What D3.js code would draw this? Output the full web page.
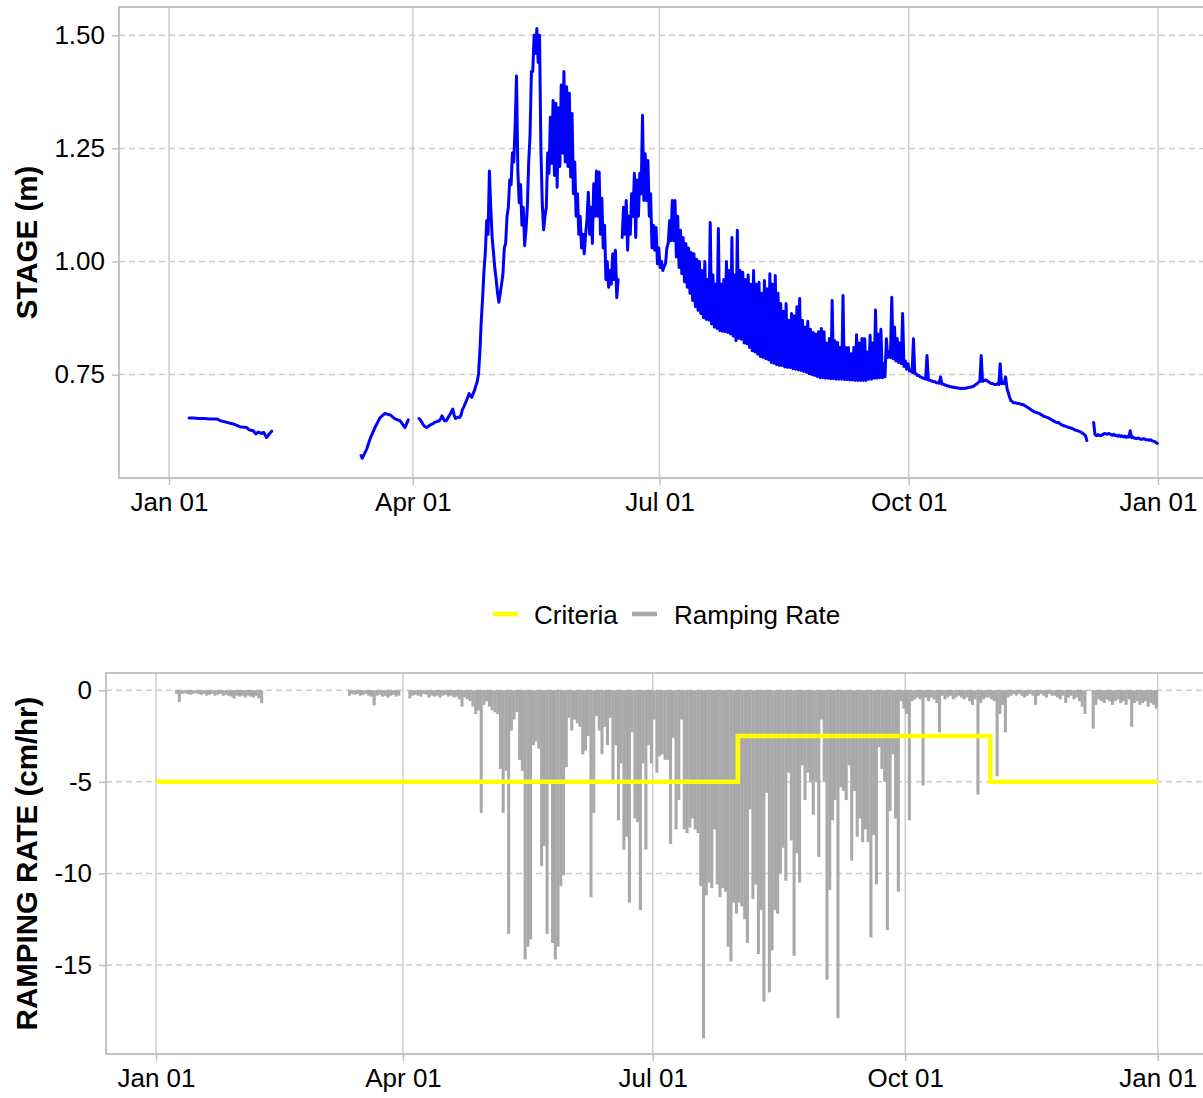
<!DOCTYPE html>
<html><head><meta charset="utf-8">
<script src="https://cdn.jsdelivr.net/npm/d3@7"></script>
<style>body{margin:0;background:#fff}svg{display:block}text{font-family:"Liberation Sans",Arial,sans-serif}</style>
</head><body><svg id="c" width="1203" height="1098"></svg>
<script>
// ---------------- DATA ----------------
const xTickDates  = ["2021-01-01","2021-04-01","2021-07-01","2021-10-01","2022-01-01"];
const xTickLabels = ["Jan 01","Apr 01","Jul 01","Oct 01","Jan 01"];
const stageTicks  = [0.75, 1.00, 1.25, 1.50];
const stageTickLabels = ["0.75","1.00","1.25","1.50"];
const rampTicks   = [0, -5, -10, -15];
const rampTickLabels = ["0","-5","-10","-15"];

// Stage (m): January segment, [day of year, value]
const stageJanDay = [7.4,9,11,13,15,17.6,19,21,23.7,25,26,27,28.7,29.5,31.1,32,33,34,35,36,37,37.9];
const stageJanVal = [0.654,0.654,0.653,0.653,0.652,0.652,0.648,0.645,0.641,0.638,0.635,0.634,0.633,0.628,0.626,0.619,0.623,0.62,0.622,0.611,0.619,0.625];
// Stage (m): March segment
const stageMarDay = [70.9,71.3,73,74.2,76,77.9,79.7,81.6,83.4,85.3,87.1,88.3];
const stageMarVal = [0.571,0.565,0.586,0.608,0.633,0.655,0.664,0.661,0.652,0.648,0.633,0.65];
// Stage (m): Apr 2 (day 92) .. Dec 31, two readings per day
const stageStartDay = 92;
const stageAprDec = [
[.653,.650],[.645,.640],[.636,.634],[.633,.636],[.638,.640],[.641,.643],[.645,.646],[.647,.648],[.652,.659],[.652,.648],
[.648,.652],[.658,.662],[.668,.674],[.660,.653],[.655,.656],[.655,.660],[.672,.678],[.685,.692],[.700,.708],[.703,.700],
[.708,.715],[.725,.735],[.752,.803],[.870,.920],[.980,1.02],[1.09,1.06],[1.20,1.12],[1.054,1.02],[.985,.960],[.930,.910],
[.930,.950],[.973,1.03],[1.04,1.10],[1.12,1.18],[1.17,1.24],[1.22,1.30],[1.41,1.20],[1.13,1.17],[1.08,1.12],[1.035,1.07],
[1.12,1.22],[1.28,1.42],[1.42,1.50],[1.46,1.515],[1.44,1.50],[1.25,1.13],[1.07,1.10],[1.12,1.24],[1.195,1.319],[1.217,1.356],
[1.19,1.35],[1.164,1.34],[1.21,1.39],[1.24,1.42],[1.22,1.386],[1.21,1.372],[1.187,1.327],[1.15,1.22],[1.10,1.15],[1.06,1.10],
[1.03,1.06],[1.017,1.06],[1.09,1.153],[1.06,1.12],[1.04,1.172],[1.10,1.20],[1.10,1.198],[1.06,1.14],[1.03,1.08],[.960,1.00],
[.943,.980],[.950,1.017],[.960,1.025],[.920,.960],[null,null],[1.053,1.12],[1.06,1.135],[1.025,1.10],[1.06,1.15],[1.10,1.195],
[1.053,1.18],[1.10,1.195],[1.15,1.323],[1.135,1.238],[1.135,1.223],[1.10,1.15],[1.03,1.08],[1.025,1.075],[.995,1.03],[.987,1.0],
[.980,.990],[.995,1.03],[1.04,1.09],[1.046,1.135],[1.046,1.135],[1.01,1.10],[.987,1.069],[.973,1.053],[.955,1.04],[.943,1.03],
[.930,1.02],[.914,1.017],[.900,1.005],[.892,1.0],[.885,.980],[.876,1.0],[.872,.960],[.870,1.086],[.862,.970],[.855,.950],
[.852,1.073],[.847,.950],[.846,.960],[.845,1.0],[.843,.980],[.840,1.053],[.835,.970],[.825,1.069],[.830,.980],[.828,.976],
[.820,.960],[.818,.970],[.810,.950],[.803,.980],[.800,.950],[.795,.954],[.790,.930],[.788,.958],[.785,.940],[.783,.973],
[.777,.950],[.775,.969],[.772,.930],[.770,.907],[.770,.890],[.767,.907],[.766,.870],[.766,.885],[.763,.880],[.762,.900],
[.760,.918],[.759,.870],[.757,.855],[.755,.868],[.752,.850],[.750,.843],[.748,.840],[.746,.845],[.743,.852],[.743,.845],
[.742,.820],[.742,.830],[.741,.914],[.741,.825],[.740,.821],[.740,.810],[.740,.925],[.739,.810],[.739,.810],[.738,.796],
[.738,.810],[.737,.838],[.737,.820],[.737,.830],[.737,.829],[.737,.800],[.740,.837],[.740,.820],[.742,.893],[.742,.840],
[.743,.850],[.743,.774],[.745,.829],[.788,.800],[.788,.921],[.785,.855],[.780,.830],[.777,.820],[.774,.885],[.768,.780],
[.762,.774],[.758,.760],[.755,.829],[.752,.752],[.748,.748],[.745,.744],[.742,.742],[.740,.792],[.738,.738],[.736,.736],
[.734,.734],[.732,.732],[.731,.745],[.729,.729],[.727,.727],[.725,.725],[.723,.723],[.722,.722],[.721,.721],[.720,.720],
[.719,.720],[.719,.720],[.720,.721],[.722,.722],[.723,.724],[.726,.728],[.730,.733],[.735,.792],[.735,.736],[.738,.737],
[.735,.733],[.731,.730],[.730,.728],[.728,.730],[.728,.774],[.730,.732],[.730,.745],[.720,.710],[.700,.692],[.690,.688],
[.688,.687],[.686,.686],[.685,.684],[.684,.682],[.680,.678],[.676,.674],[.672,.670],[.668,.667],[.666,.665],[.664,.662],
[.660,.658],[.657,.656],[.655,.654],[.652,.650],[.648,.647],[.645,.644],[.644,.642],[.640,.638],[.637,.636],[.635,.634],
[.633,.632],[.631,.630],[.628,.627],[.626,.625],[.624,.622],[.620,.618],[.615,.604],[null,null],[null,null],[.644,.618],
[.615,.617],[.616,.615],[.616,.618],[.620,.619],[.618,.620],[.619,.617],[.616,.618],[.615,.616],[.614,.616],[.613,.615],
[.612,.614],[.611,.613],[.612,.626],[.611,.612],[.610,.609],[.609,.610],[.608,.607],[.607,.609],[.607,.606],[.606,.605],
[.606,.604],[.603,.602],[.600,.598]
];

// Ramping rate (cm/hr): daily values
const rampJanStart = 7;
const rampJan = [-0.2,-0.64,-0.2,-0.15,-0.2,-0.25,-0.2,-0.15,-0.2,-0.25,-0.2,-0.3,-0.25,-0.2,-0.3,-0.25,-0.2,-0.3,-0.25,-0.3,-0.35,-0.45,-0.3,-0.35,-0.3,-0.4,-0.3,-0.35,-0.4,-0.3,-0.45,-0.71];
const rampMarStart = 70;
const rampMar = [-0.3,-0.2,-0.25,-0.2,-0.3,-0.25,-0.2,-0.3,-0.35,-0.82,-0.3,-0.25,-0.35,-0.3,-0.4,-0.3,-0.25,-0.35,-0.3];
const rampAprStart = 92;
const rampAprDec = [
-0.45,-0.3,-0.25,-0.3,-0.35,-0.2,-0.25,-0.4,-0.3,-0.35,
-0.3,-0.4,-0.3,-0.25,-0.35,-0.3,-0.4,-0.35,-0.5,-0.9,
-0.4,-0.5,-0.6,-0.9,-1.3,-1.1,-6.7,-0.8,-0.6,-0.9,
-1.1,-1.2,-1.3,-4.3,-6.7,-4.4,-13.3,-2.2,-1.6,-1.2,
-3.8,-4.4,-14.7,-14.0,-13.6,-3.0,-2.8,-3.2,-9.6,-8.5,
-13.3,-5.1,-13.8,-14.7,-14.0,-10.7,-10.1,-4.2,-1.5,-2.2,
-1.6,-1.8,-2.0,-3.5,-3.3,-2.5,-11.3,-6.7,-1.4,-2.2,
-3.5,-2.0,-3.0,-1.5,-4.9,-3.0,-7.1,-4.0,-8.7,-8.0,
-11.6,-2.3,-7.0,-7.2,-12.0,-4.0,-8.7,-3.0,-4.0,-1.6,
-4.5,-3.6,-3.5,-3.8,-3.8,-8.4,-2.6,-7.6,-6.0,-1.6,
-7.6,-7.8,-7.5,-7.0,-7.6,-7.8,-10.7,-19.0,-11.2,-10.5,
-10.8,-7.6,-10.6,-11.3,-10.8,-11.0,-14.0,-14.8,-11.6,-12.2,
-11.6,-11.8,-12.5,-13.8,-6.5,-11.4,-10.6,-14.4,-12.0,-17.0,
-5.6,-16.5,-14.2,-12.0,-12.2,-10.0,-8.6,-10.4,-4.5,-8.2,
-14.5,-8.9,-10.5,-4.1,-6.0,-4.5,-5.0,-6.8,-5.0,-9.1,
-1.6,-5.0,-15.8,-10.9,-7.1,-6.0,-17.9,-5.3,-5.5,-6.0,
-4.1,-9.3,-5.5,-8.0,-7.0,-8.3,-7.6,-8.3,-13.5,-7.9,
-10.6,-3.1,-4.3,-5.0,-13.1,-6.6,-3.5,-7.0,-11.0,-0.6,
-1.0,-1.3,-7.1,-0.6,-0.5,-0.4,-0.5,-5.2,-0.4,-0.6,
-0.4,-0.5,-0.7,-2.3,-0.3,-0.5,-0.4,-0.3,-0.5,-0.4,
-0.3,-0.4,-0.5,-0.4,-0.6,-0.8,-0.5,-5.7,-0.7,-0.5,
-0.4,-0.4,-0.5,-0.6,-4.7,-1.3,-0.8,-2.3,-0.4,-0.3,
-0.2,-0.3,-0.2,-0.3,-0.4,-0.3,-0.2,-0.3,-0.8,-0.3,
-0.2,-0.3,-0.4,-0.2,-0.3,-0.3,-0.4,-0.5,-0.3,-0.7,
-0.4,-0.3,-0.5,-0.4,-0.6,-0.9,-1.3,null,null,-2.1,
-0.8,-0.5,-0.6,-0.7,-0.5,-0.6,-0.8,-0.6,-0.5,-0.7,
-0.6,-0.8,-0.5,-2.0,-0.7,-0.6,-0.8,-0.7,-0.6,-0.9,
-0.7,-0.8,-1.0
];

// Ramping criteria (cm/hr), step after each date
const criteriaDates = ["2021-01-01","2021-08-01","2021-11-01","2022-01-01"];
const criteriaVals  = [-5, -2.5, -5, -5];

const legendLabels = ["Criteria","Ramping Rate"];
const legendColors = ["#FFFF00","#A9A9A9"];

// ---------------- DRAW ----------------
const svg = d3.select("#c");
const parse = s => new Date(s + "T00:00:00Z");
const day0 = Date.UTC(2021,0,1);
const dayToDate = d => new Date(day0 + d*864e5);
const domainX = [parse("2021-01-01"), parse("2022-01-01")];

const GRID = "#cccccc", BORDER = "#bdbdbd", FONT = 26;

function panel(o){
  const g = svg.append("g");
  const id = "clip" + o.name;
  svg.append("clipPath").attr("id", id).append("rect")
     .attr("x", o.left).attr("y", o.top).attr("width", o.right - o.left).attr("height", o.bottom - o.top);
  g.selectAll(".vg").data(xTickDates).join("line")
    .attr("x1", d => o.x(parse(d))).attr("x2", d => o.x(parse(d)))
    .attr("y1", o.top).attr("y2", o.bottom)
    .attr("stroke", GRID).attr("stroke-width", 1.5);
  g.selectAll(".hg").data(o.yTicks).join("line")
    .attr("x1", o.left).attr("x2", o.right)
    .attr("y1", d => o.y(d)).attr("y2", d => o.y(d))
    .attr("stroke", GRID).attr("stroke-width", 1.5).attr("stroke-dasharray", "6,4");
  const data = svg.append("g").attr("clip-path", `url(#${id})`);
  svg.append("rect").attr("x", o.left).attr("y", o.top)
    .attr("width", o.right - o.left).attr("height", o.bottom - o.top)
    .attr("fill", "none").attr("stroke", BORDER).attr("stroke-width", 1.8);
  const ax = svg.append("g").attr("transform", `translate(0,${o.bottom})`)
    .call(d3.axisBottom(o.x).tickValues(xTickDates.map(parse)).tickFormat((d,i) => xTickLabels[i]).tickSize(7).tickPadding(8));
  ax.select(".domain").remove();
  ax.selectAll("line").attr("stroke", BORDER).attr("stroke-width", 1.5);
  ax.selectAll("text").attr("font-size", FONT).attr("fill", "#000").attr("font-family", "Liberation Sans, Arial, sans-serif");
  const ay = svg.append("g").attr("transform", `translate(${o.left},0)`)
    .call(d3.axisLeft(o.y).tickValues(o.yTicks).tickFormat((d,i) => o.yLabels[i]).tickSize(7).tickPadding(7));
  ay.select(".domain").remove();
  ay.selectAll("line").attr("stroke", BORDER).attr("stroke-width", 1.5);
  ay.selectAll("text").attr("font-size", FONT).attr("fill", "#000").attr("font-family", "Liberation Sans, Arial, sans-serif");
  svg.append("text").attr("transform", `translate(37,${(o.top + o.bottom)/2}) rotate(-90)`)
    .attr("text-anchor", "middle").attr("font-weight", "bold").attr("font-size", 29.5).attr("fill", "#000")
    .text(o.title);
  return data;
}

// ---- top panel ----
const xTop = d3.scaleUtc().domain(domainX).range([169, 1158]);
const yTop = d3.scaleLinear().domain([0.5215, 1.5625]).range([478, 7]);
const topData = panel({name:"top", left:119, right:1212, top:7, bottom:478, x:xTop, y:yTop,
  yTicks:stageTicks, yLabels:stageTickLabels, title:"STAGE (m)"});

const stagePts = [];
stageJanDay.forEach((d,i) => stagePts.push({t:dayToDate(d), v:stageJanVal[i]}));
stagePts.push({t:dayToDate(50), v:null});
stageMarDay.forEach((d,i) => stagePts.push({t:dayToDate(d), v:stageMarVal[i]}));
stagePts.push({t:dayToDate(90), v:null});
stageAprDec.forEach((p,i) => {
  stagePts.push({t:dayToDate(stageStartDay + i + 0.25), v:p[0]});
  stagePts.push({t:dayToDate(stageStartDay + i + 0.75), v:p[1]});
});
const stageLine = d3.line().defined(d => d.v != null).x(d => xTop(d.t)).y(d => yTop(d.v));
topData.append("path").datum(stagePts).attr("d", stageLine)
  .attr("fill", "none").attr("stroke", "#0000FF").attr("stroke-width", 3)
  .attr("stroke-linejoin", "round").attr("stroke-linecap", "round");

// ---- bottom panel ----
const xBot = d3.scaleUtc().domain(domainX).range([156, 1157.7]);
const yBot = d3.scaleLinear().domain([-19.86, 0.94]).range([1054, 673]);
const botData = panel({name:"bot", left:106, right:1212, top:673, bottom:1054, x:xBot, y:yBot,
  yTicks:rampTicks, yLabels:rampTickLabels, title:"RAMPING RATE (cm/hr)"});

const rampPts = [];
rampJan.forEach((v,i) => rampPts.push({d:rampJanStart + i, v}));
rampMar.forEach((v,i) => rampPts.push({d:rampMarStart + i, v}));
rampAprDec.forEach((v,i) => rampPts.push({d:rampAprStart + i, v}));
botData.selectAll(".rb").data(rampPts.filter(p => p.v != null)).join("rect")
  .attr("x", p => xBot(dayToDate(p.d)) - 0.15)
  .attr("width", p => xBot(dayToDate(p.d + 1)) - xBot(dayToDate(p.d)) + 0.3)
  .attr("y", yBot(0))
  .attr("height", p => yBot(p.v) - yBot(0))
  .attr("fill", "#A9A9A9");

const critPts = criteriaDates.map((d,i) => ({t:parse(d), v:criteriaVals[i]}));
botData.append("path").datum(critPts)
  .attr("d", d3.line().curve(d3.curveStepAfter).x(d => xBot(d.t)).y(d => yBot(d.v)))
  .attr("fill", "none").attr("stroke", "#FFFF00").attr("stroke-width", 4.6);

// ---- legend ----
const leg = svg.append("g");
const legKeyX = [493, 632], legTextX = [534, 674];
legendLabels.forEach((lab, i) => {
  leg.append("line").attr("x1", legKeyX[i]).attr("x2", legKeyX[i] + 25).attr("y1", 614).attr("y2", 614)
    .attr("stroke", legendColors[i]).attr("stroke-width", 4.6);
  leg.append("text").attr("x", legTextX[i]).attr("y", 623.5).attr("font-size", FONT).attr("fill", "#000").text(lab);
});
</script></body></html>
